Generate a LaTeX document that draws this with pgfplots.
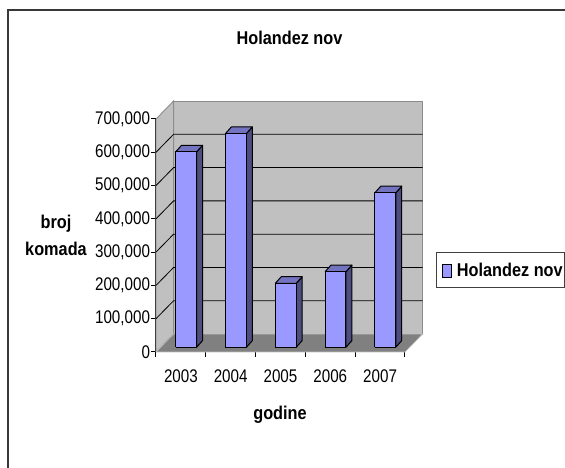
\documentclass[border=0pt]{standalone}
\usepackage{pgfplots}
\pgfplotsset{compat=1.18}
\usepackage{fontspec}
\setmainfont[FakeStretch=0.88]{Liberation Sans}
\newfontfamily\tickfont[FakeStretch=0.83]{Liberation Sans}
\definecolor{barfront}{HTML}{9999FF}
\definecolor{bartop}{HTML}{7373BF}
\definecolor{barside}{HTML}{4D4D80}
\definecolor{wall}{HTML}{C0C0C0}
\definecolor{floorc}{HTML}{808080}
\definecolor{wallline}{HTML}{8C8C8C}
\begin{document}
\begin{tikzpicture}
\path[use as bounding box] (-156pt,-116pt) rectangle (409pt,352pt);
\draw[color=black!78,line width=1.8pt] (-148pt,-116pt) -- (-148pt,342pt) -- (409pt,342pt);
\begin{axis}[
  at={(0pt,0pt)}, anchor=origin,
  scale only axis, width=249pt, height=233pt,
  xmin=0, xmax=5, ymin=0, ymax=700000,
  clip=false,
  axis x line*=bottom, axis y line*=left,
  axis line style={-, black, line width=1pt},
  xtick={0,1,2,3,4,5}, xticklabels={},
  extra x ticks={0.5,1.5,2.5,3.5,4.5},
  extra x tick labels={2003,2004,2005,2006,2007},
  extra x tick style={major tick length=0pt, tick style={draw=none}},
  ytick={0,100000,200000,300000,400000,500000,600000,700000},
  scaled y ticks=false,
  tick align=outside, major tick length=5pt,
  tick style={black, line width=1pt},
  yticklabel style={/pgf/number format/fixed,/pgf/number format/1000 sep={,},/pgf/number format/assume math mode=true, font=\tickfont\fontsize{18.3}{18.3}\selectfont, xshift=2.5pt},
  xticklabel style={/pgf/number format/assume math mode=true, font=\tickfont\fontsize{18.3}{18.3}\selectfont, yshift=-14pt},
]
% walls and floor
\addplot[fill=wall,draw=wallline,line width=0.9pt,forget plot] coordinates {(0.353,54000) (0.353,754000) (5.353,754000) (5.353,54000) (0.353,54000)};
\addplot[fill=wall,draw=wallline,line width=0.9pt,forget plot] coordinates {(0,0) (0,700000) (0.353,754000) (0.353,54000) (0,0)};
\addplot[fill=floorc,draw=wall,line width=0.6pt,forget plot] coordinates {(0,0) (5,0) (5.353,54000) (0.353,54000) (0,0)};
% gridlines
\addplot[black,line width=0.8pt,forget plot] coordinates {(0,100000) (0.353,154000) (5.353,154000)};
\addplot[black,line width=0.8pt,forget plot] coordinates {(0,200000) (0.353,254000) (5.353,254000)};
\addplot[black,line width=0.8pt,forget plot] coordinates {(0,300000) (0.353,354000) (5.353,354000)};
\addplot[black,line width=0.8pt,forget plot] coordinates {(0,400000) (0.353,454000) (5.353,454000)};
\addplot[black,line width=0.8pt,forget plot] coordinates {(0,500000) (0.353,554000) (5.353,554000)};
\addplot[black,line width=0.8pt,forget plot] coordinates {(0,600000) (0.353,654000) (5.353,654000)};
% bars: front at x0..x1, base 0, value v; all shifted into the depth
\pgfplotsset{bar3d/.style={xshift=5.2pt,yshift=4.7pt,draw=black,line width=1pt,line join=round,forget plot}}
% 2003
\addplot[bar3d,fill=barside] coordinates {(0.71,0) (0.83,20000) (0.83,607000) (0.71,587000) (0.71,0)};
\addplot[bar3d,fill=bartop] coordinates {(0.29,587000) (0.41,607000) (0.83,607000) (0.71,587000) (0.29,587000)};
\addplot[bar3d,fill=barfront] coordinates {(0.29,0) (0.29,587000) (0.71,587000) (0.71,0) (0.29,0)};
% 2004
\addplot[bar3d,fill=barside] coordinates {(1.71,0) (1.83,20000) (1.83,662000) (1.71,642000) (1.71,0)};
\addplot[bar3d,fill=bartop] coordinates {(1.29,642000) (1.41,662000) (1.83,662000) (1.71,642000) (1.29,642000)};
\addplot[bar3d,fill=barfront] coordinates {(1.29,0) (1.29,642000) (1.71,642000) (1.71,0) (1.29,0)};
% 2005
\addplot[bar3d,fill=barside] coordinates {(2.71,0) (2.83,20000) (2.83,212000) (2.71,192000) (2.71,0)};
\addplot[bar3d,fill=bartop] coordinates {(2.29,192000) (2.41,212000) (2.83,212000) (2.71,192000) (2.29,192000)};
\addplot[bar3d,fill=barfront] coordinates {(2.29,0) (2.29,192000) (2.71,192000) (2.71,0) (2.29,0)};
% 2006
\addplot[bar3d,fill=barside] coordinates {(3.71,0) (3.83,20000) (3.83,247000) (3.71,227000) (3.71,0)};
\addplot[bar3d,fill=bartop] coordinates {(3.29,227000) (3.41,247000) (3.83,247000) (3.71,227000) (3.29,227000)};
\addplot[bar3d,fill=barfront] coordinates {(3.29,0) (3.29,227000) (3.71,227000) (3.71,0) (3.29,0)};
% 2007
\addplot[bar3d,fill=barside] coordinates {(4.71,0) (4.83,20000) (4.83,484000) (4.71,464000) (4.71,0)};
\addplot[bar3d,fill=bartop] coordinates {(4.29,464000) (4.41,484000) (4.83,484000) (4.71,464000) (4.29,464000)};
\addplot[bar3d,fill=barfront] coordinates {(4.29,0) (4.29,464000) (4.71,464000) (4.71,0) (4.29,0)};
\end{axis}
% titles and legend
\node[font=\fontsize{18.5}{18.5}\bfseries\selectfont] at (133.5pt,314pt) {Holandez nov};
\node[font=\fontsize{18.5}{27}\bfseries\selectfont,align=center] at (-100pt,116.5pt) {broj\\komada};
\node[font=\fontsize{18.5}{18.5}\bfseries\selectfont] at (124pt,-63pt) {godine};
\draw[black!75,fill=white,line width=0.7pt] (280pt,65pt) rectangle (408.5pt,100pt);
\draw[black,line width=0.8pt,fill=barfront] (286pt,75pt) rectangle (295pt,88pt);
\node[font=\fontsize{18.5}{18.5}\bfseries\selectfont,anchor=west,inner sep=0pt] at (300.7pt,82pt) {Holandez nov};
\end{tikzpicture}
\end{document}
